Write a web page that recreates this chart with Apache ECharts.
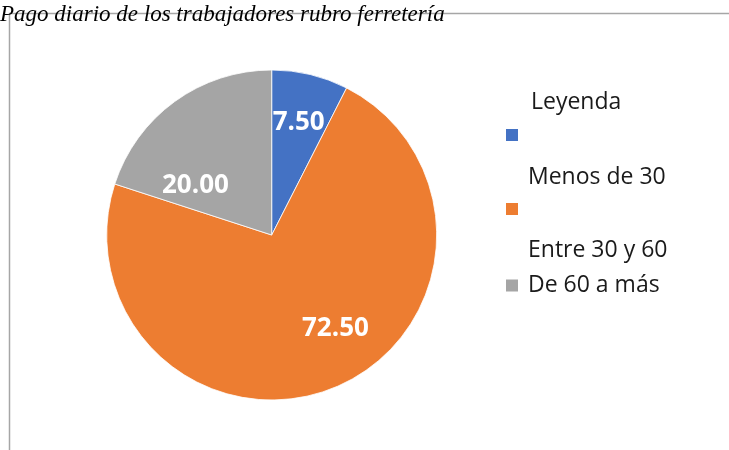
<!DOCTYPE html>
<html>
<head>
<meta charset="utf-8">
<script src="https://cdn.jsdelivr.net/npm/echarts@6/dist/echarts.min.js"></script>
<style>
  html, body { margin: 0; padding: 0; background: #fff; }
  #chart { width: 729px; height: 450px; }
</style>
</head>
<body>
<div id="chart"></div>
<script>
// datos del gráfico
var categorias = ['Menos de 30', 'Entre 30 y 60', 'De 60 a más'];
var valores = [7.5, 72.5, 20.0];

var colores = ['#4472C4', '#ED7D31', '#A5A5A5'];
// desplazamiento de las etiquetas (como lo hace Excel)
var ajusteEtiquetas = [[7, -29], [31, 15], [-26, 20]];

var myChart = echarts.init(document.getElementById('chart'));

var fuente = '"Open Sans", "Liberation Sans", sans-serif';

// una leyenda por elemento; el texto va debajo del cuadro en las dos primeras
function leyenda(i, top, salto) {
  return {
    orient: 'vertical',
    left: 504,
    top: top,
    padding: 0,
    itemWidth: 14,
    itemHeight: 14,
    selectedMode: false,
    icon: 'rect',
    data: [categorias[i]],
    formatter: function (name) {
      return salto ? '{g| }\n{t|' + name + '}' : '{t|' + name + '}';
    },
    textStyle: {
      fontFamily: fuente,
      fontSize: 23,
      color: '#1a1a1a',
      rich: {
        g: { fontSize: 10, lineHeight: salto, height: salto },
        t: { fontFamily: fuente, fontSize: 23, lineHeight: 24, color: '#1a1a1a', padding: [0, 0, 0, 4] }
      }
    }
  };
}

var option = {
  animation: false,
  color: colores,
  title: [
    {
      text: 'Pago diario de los trabajadores rubro ferretería',
      left: 0,
      top: 3,
      padding: 0,
      textStyle: {
        fontFamily: '"Liberation Serif", serif',
        fontStyle: 'italic',
        fontWeight: 'normal',
        fontSize: 23,
        color: '#000'
      }
    },
    {
      text: 'Leyenda',
      left: 531,
      top: 91,
      padding: 0,
      textStyle: {
        fontFamily: fuente,
        fontWeight: 'normal',
        fontSize: 23,
        color: '#1a1a1a'
      }
    }
  ],
  legend: [
    leyenda(0, 81, 84),
    leyenda(1, 156, 82),
    leyenda(2, 274, 0)
  ],
  graphic: [
    {
      type: 'polyline',
      z: -1,
      shape: { points: [[9.5, 450], [9.5, 13.5], [729, 13.5]] },
      style: { stroke: '#a6a6a6', lineWidth: 1.5, fill: null }
    }
  ],
  series: [
    {
      type: 'pie',
      center: [271.7, 235],
      radius: 165,
      startAngle: 90,
      clockwise: true,
      silent: true,
      itemStyle: { borderColor: '#fff', borderWidth: 0.8 },
      label: {
        show: true,
        position: 'inside',
        formatter: function (p) { return p.value.toFixed(2); },
        color: '#fff',
        fontFamily: fuente,
        fontWeight: 'bold',
        fontSize: 26
      },
      labelLine: { show: false },
      labelLayout: function (p) {
        var a = ajusteEtiquetas[p.dataIndex];
        return { dx: a[0], dy: a[1] };
      },
      data: categorias.map(function (c, i) {
        return { name: c, value: valores[i] };
      })
    }
  ]
};

myChart.setOption(option);
</script>
</body>
</html>
